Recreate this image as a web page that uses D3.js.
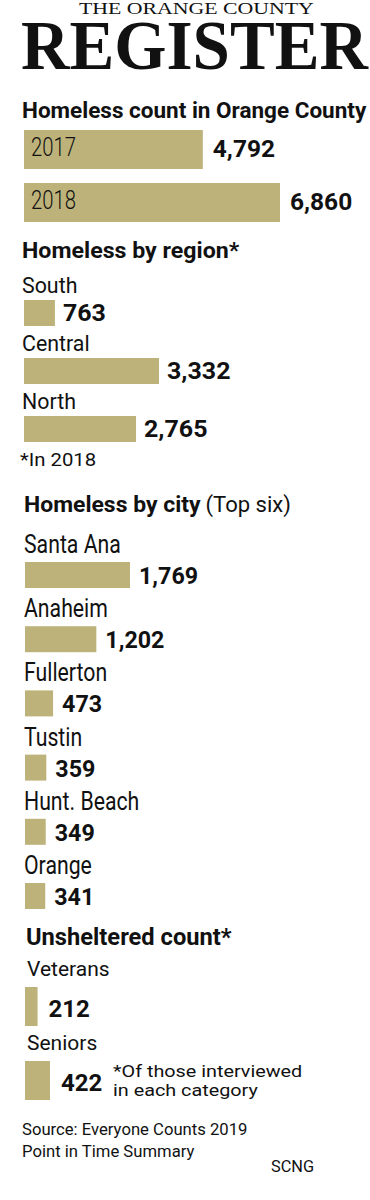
<!DOCTYPE html>
<html>
<head>
<meta charset="utf-8">
<script src="https://cdn.jsdelivr.net/npm/d3@7"></script>
<style>
  body { margin: 0; background: #fff; }
  svg { display: block; }
</style>
</head>
<body>
<svg id="chart" width="370" height="1200"></svg>
<script>
const years = ["2017", "2018"];
const yearCounts = [4792, 6860];
const regions = ["South", "Central", "North"];
const regionCounts = [763, 3332, 2765];
const cities = ["Santa Ana", "Anaheim", "Fullerton", "Tustin", "Hunt. Beach", "Orange"];
const cityCounts = [1769, 1202, 473, 359, 349, 341];
const groups = ["Veterans", "Seniors"];
const groupCounts = [212, 422];

const svg = d3.select("#chart");
const fmt = d3.format(",");
const barColor = "#bdb37a";
const ink = "#111";
const sans = "Roboto, sans-serif";

// the original uses a condensed face, so squeeze Roboto sideways where needed
function label(parent, x, y, str, size, weight, squeeze) {
  return parent.append("text")
    .attr("transform", `translate(${x},${y}) scale(${squeeze},1)`)
    .attr("font-family", sans)
    .attr("font-size", size)
    .attr("font-weight", weight)
    .attr("fill", ink)
    .text(str);
}

// masthead: scale each line to the width it has in the print logo
function mastLine(x, y, str, size, weight, width) {
  const t = svg.append("text")
    .attr("font-family", "Liberation Serif, serif")
    .attr("font-size", size)
    .attr("font-weight", weight)
    .attr("fill", ink)
    .text(str);
  const sx = width / t.node().getComputedTextLength();
  t.attr("transform", `translate(${x},${y}) scale(${sx},1)`);
}
mastLine(79, 14, "THE ORANGE COUNTY", 16, 400, 235);
mastLine(21, 69, "REGISTER", 70, 700, 347);

function drawSection(names, counts, o) {
  const x = d3.scaleLinear().domain([0, d3.max(counts)]).range([0, o.maxW]);
  const y = d3.scalePoint().domain(names).range([o.top, o.bottom]);
  const g = svg.append("g");
  const rows = names.map((n, i) => ({ name: n, value: counts[i] }));

  g.selectAll("rect")
    .data(rows)
    .join("rect")
    .attr("x", o.x0)
    .attr("y", d => y(d.name))
    .attr("width", d => x(d.value))
    .attr("height", o.barH)
    .attr("fill", barColor);

  rows.forEach(d => {
    if (o.inside) {
      label(g, o.x0 + 7, y(d.name) + o.labelDy, d.name, o.labelSize, 300, o.labelSq);
    } else {
      label(g, o.labelX, y(d.name) + o.labelDy, d.name, o.labelSize, 400, o.labelSq);
    }
    label(g, o.x0 + x(d.value) + o.gap, y(d.name) + o.valueDy, fmt(d.value), o.valueSize, 700, o.valueSq);
  });
}

// headers
label(svg, 22, 118, "Homeless count in Orange County", 22.5, 700, 1);
label(svg, 22, 258, "Homeless by region*", 22.5, 700, 1.03);
const cityHead = label(svg, 24, 512, "Homeless by city", 22.5, 700, 1.02);
label(svg, 24 + cityHead.node().getComputedTextLength() * 1.02 + 5, 512, "(Top six)", 22.5, 400, 0.98);
label(svg, 26, 945, "Unsheltered count*", 23, 700, 1.03);

drawSection(years, yearCounts, {
  x0: 24, maxW: 256, top: 130, bottom: 183, barH: 39, inside: true,
  labelDy: 26, labelSize: 26, labelSq: 0.78,
  gap: 10, valueDy: 27, valueSize: 24, valueSq: 1.02
});

drawSection(regions, regionCounts, {
  x0: 24, maxW: 135, top: 300, bottom: 416, barH: 26,
  labelX: 22, labelDy: -7, labelSize: 22.5, labelSq: 0.95,
  gap: 8, valueDy: 21, valueSize: 24.5, valueSq: 1.02
});

drawSection(cities, cityCounts, {
  x0: 25, maxW: 105, top: 562, bottom: 883, barH: 26,
  labelX: 24, labelDy: -9, labelSize: 25, labelSq: 0.85,
  gap: 9, valueDy: 22, valueSize: 24.5, valueSq: 0.95
});

drawSection(groups, groupCounts, {
  x0: 25, maxW: 25, top: 987, bottom: 1061, barH: 39,
  labelX: 27, labelDy: -11, labelSize: 21, labelSq: 1,
  gap: 11, valueDy: 30, valueSize: 24.5, valueSq: 0.98
});

// notes
label(svg, 20, 466, "*In 2018", 19, 400, 1.07);
const note = svg.append("text")
  .attr("transform", "translate(113,1077) scale(1.2,1)")
  .attr("font-family", sans)
  .attr("font-size", 16.5)
  .attr("fill", ink);
note.append("tspan").attr("x", 0).attr("y", 0).text("*Of those interviewed");
note.append("tspan").attr("x", 0).attr("y", 19).text("in each category");
label(svg, 22, 1135, "Source: Everyone Counts 2019", 17, 400, 0.98);
label(svg, 22, 1157, "Point in Time Summary", 17, 400, 0.98);
label(svg, 271, 1172, "SCNG", 16, 400, 1.02);
</script>
</body>
</html>
